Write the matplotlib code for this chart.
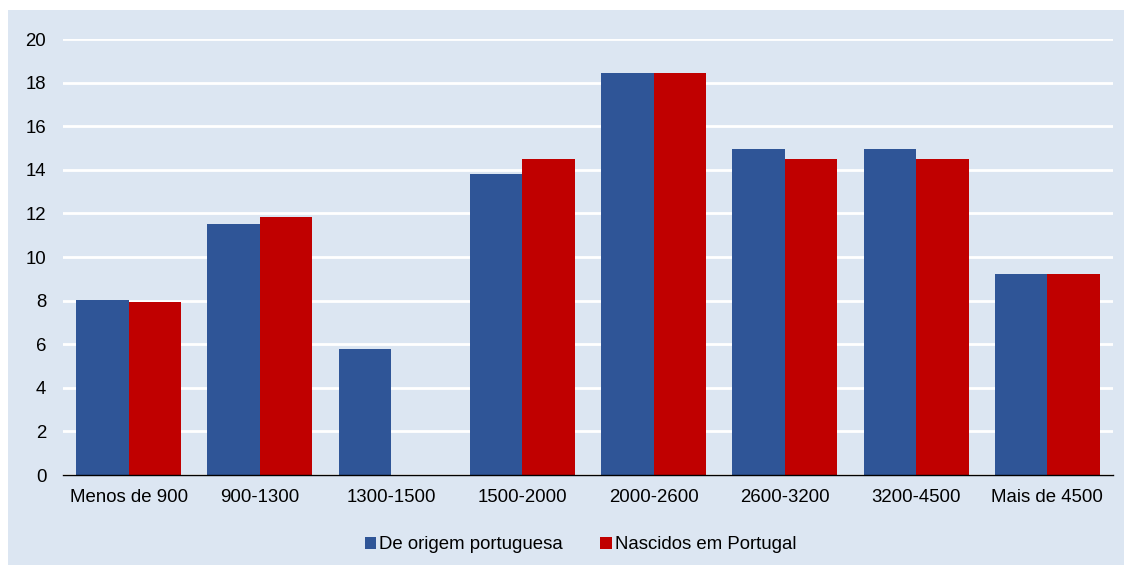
import numpy as np
import matplotlib.pyplot as plt
from matplotlib.patches import Rectangle

categories = ['Menos de 900', '900-1300', '1300-1500', '1500-2000',
              '2000-2600', '2600-3200', '3200-4500', 'Mais de 4500']
origem = [8.05, 11.5, 5.78, 13.8, 18.42, 14.95, 14.95, 9.2]
nascidos = [7.92, 11.83, 0, 14.48, 18.45, 14.48, 14.48, 9.2]

plt.rcParams['font.family'] = ['Liberation Sans', 'DejaVu Sans']

bg = '#DCE6F2'
fig = plt.figure(figsize=(11.32, 5.70), dpi=100)
fig.patches.append(Rectangle((8 / 1132, 5 / 570), 1116 / 1132, 555 / 570,
                             transform=fig.transFigure, facecolor=bg,
                             edgecolor='none', zorder=-5))
ax = fig.add_axes([63 / 1132, 95 / 570, 1050 / 1132, 436 / 570])
ax.patch.set_visible(False)

x = np.arange(len(categories))
w = 0.4
ax.bar(x - w / 2, origem, w, color='#2F5597', label='De origem portuguesa', zorder=3)
ax.bar(x + w / 2, nascidos, w, color='#C00000', label='Nascidos em Portugal', zorder=3)

ax.set_xlim(-0.5, 7.5)
ax.set_ylim(0, 20)
ax.set_yticks(range(0, 21, 2))
ax.set_xticks(x)
ax.set_xticklabels(categories)
ax.yaxis.grid(True, color='white', linewidth=2, zorder=1)
ax.set_axisbelow(True)
for s in ['top', 'right', 'left']:
    ax.spines[s].set_visible(False)
ax.spines['bottom'].set_color('black')
ax.spines['bottom'].set_linewidth(1)
ax.spines['bottom'].set_zorder(4)
ax.tick_params(axis='both', length=0, labelsize=13.4, colors='black')
ax.tick_params(axis='y', pad=12)
ax.tick_params(axis='x', pad=10)

ax.legend(loc='center', bbox_to_anchor=(0.493, -0.16), ncol=2, frameon=False,
          fontsize=13.4, handlelength=0.6, handleheight=0.6, handletextpad=0.2,
          columnspacing=2.0)

fig.savefig('out.png', dpi=100)
